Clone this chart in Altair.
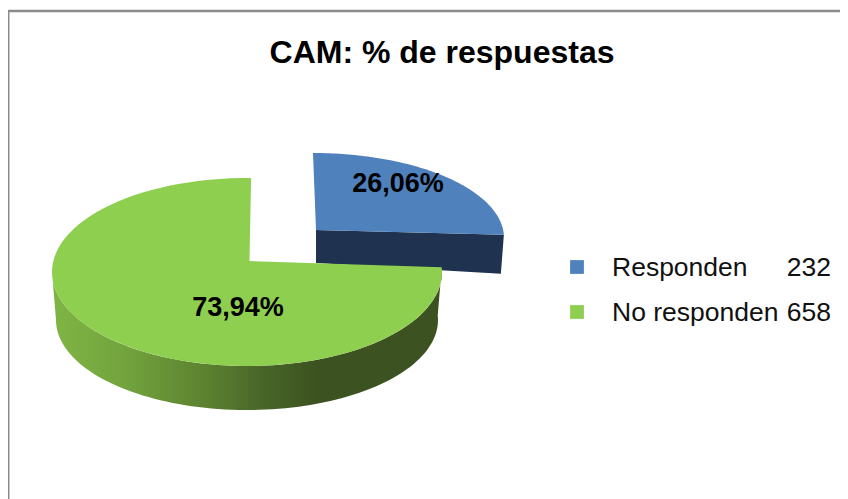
import math
import altair as alt
import pandas as pd

categories = ["Responden", "No responden"]
counts = [232, 658]
pct_labels = ["26,06%", "73,94%"]
title_text = "CAM: % de respuestas"

BLUE, GREEN, NAVY = "#4F81BD", "#8FCF50", "#1F3350"
FONT = "Liberation Sans"
GRAY = "#8C8C8C"

share = counts[0] / sum(counts)
sweep = 360 * share


def arc(cx, cy, rx, ry, a0, a1, n=90):
    pts = []
    for k in range(n + 1):
        t = math.radians(a0 + (a1 - a0) * k / n)
        pts.append((cx + rx * math.sin(t), cy - ry * math.cos(t)))
    return pts


def frame(pts):
    return pd.DataFrame([{"x": p[0], "y": p[1], "i": i} for i, p in enumerate(pts + pts[:1])])


XS = alt.Scale(domain=[8, 840], nice=False, zero=False)
YS = alt.Scale(domain=[499, 8], nice=False, zero=False)
X = alt.X("x:Q", scale=XS, axis=None)
Y = alt.Y("y:Q", scale=YS, axis=None)


def poly(pts, fill):
    return alt.Chart(frame(pts)).mark_line(fill=fill, strokeWidth=0).encode(
        x=X, y=Y, order=alt.Order("i:Q")
    )


# blue slice (exploded)
b_top = dict(cx=313, cy=238, rx=191, ry=85)
b_end = sweep - 6
blue_arc = arc(**b_top, a0=0, a1=b_end)
e = blue_arc[-1]
blue_apex = (316, 230)
blue_side = [blue_apex, e, (e[0] - 3, e[1] + 39), (blue_apex[0], blue_apex[1] + 33)]
blue_face = [blue_apex] + blue_arc

# green slice
g_top = dict(cx=247, cy=272, rx=195, ry=94)
g_low = dict(cx=247, cy=320, rx=191, ry=90)
g_start = sweep - 6.8
green_face = [(249.5, 261)] + arc(**g_top, a0=g_start, a1=361.2)
green_side = arc(**g_top, a0=g_start, a1=270) + arc(**g_low, a0=270, a1=g_start)

side_gradient = alt.Gradient(
    gradient="linear", x1=0, x2=1, y1=0, y2=0,
    stops=[
        alt.GradientStop(offset=0.0, color="#80B545"),
        alt.GradientStop(offset=0.2, color="#71A23D"),
        alt.GradientStop(offset=0.4, color="#5B802F"),
        alt.GradientStop(offset=0.55, color="#476428"),
        alt.GradientStop(offset=0.68, color="#3C5220"),
        alt.GradientStop(offset=1.0, color="#3C5220"),
    ],
)

frame_h = pd.DataFrame({"x": [8], "x2": [840], "y": [11]})
frame_v = pd.DataFrame({"x": [8.5], "y": [11], "y2": [499]})
border = alt.Chart(frame_h).mark_rule(color=GRAY, strokeWidth=2.5).encode(x=X, x2="x2:Q", y=Y) + alt.Chart(
    frame_v
).mark_rule(color=GRAY, strokeWidth=2).encode(x=X, y=Y, y2="y2:Q")

title = alt.Chart(pd.DataFrame({"x": [442], "y": [53], "t": [title_text]})).mark_text(
    font=FONT, fontSize=32, fontWeight="bold", color="#000000", align="center", baseline="middle"
).encode(x=X, y=Y, text="t:N")

labels = alt.Chart(pd.DataFrame({"x": [398, 238], "y": [184, 308], "t": pct_labels})).mark_text(
    font=FONT, fontSize=27, fontWeight="bold", color="#000000", align="center", baseline="middle"
).encode(x=X, y=Y, text="t:N")

legend_df = pd.DataFrame(
    {"x": [577, 577], "tx": [612, 612], "nx": [831, 831], "y": [267, 312], "ty": [268, 313], "cat": categories, "n": counts}
)
legend_marks = alt.Chart(legend_df).mark_square(size=190, opacity=1, filled=True).encode(
    x=X, y=Y,
    color=alt.Color("cat:N", scale=alt.Scale(domain=categories, range=[BLUE, GREEN]), legend=None),
)
TY = alt.Y("ty:Q", scale=YS, axis=None)
legend_text = alt.Chart(legend_df).mark_text(
    font=FONT, fontSize=26.5, color="#111111", align="left", baseline="middle"
).encode(x=alt.X("tx:Q", scale=XS, axis=None), y=TY, text="cat:N")
legend_count = alt.Chart(legend_df).mark_text(
    font=FONT, fontSize=26.5, color="#111111", align="right", baseline="middle"
).encode(x=alt.X("nx:Q", scale=XS, axis=None), y=TY, text="n:Q")

chart = alt.layer(
    border,
    poly(blue_side, NAVY),
    poly(blue_face, BLUE),
    poly(green_side, side_gradient),
    poly(green_face, GREEN),
    labels,
    title,
    legend_marks,
    legend_text,
    legend_count,
).properties(
    width=832, height=491, padding=0, autosize=alt.AutoSizeParams(type="none"), background="#FFFFFF"
).configure_view(stroke=None)

chart.save("out.html", embed_options={"renderer": "svg", "actions": False})
